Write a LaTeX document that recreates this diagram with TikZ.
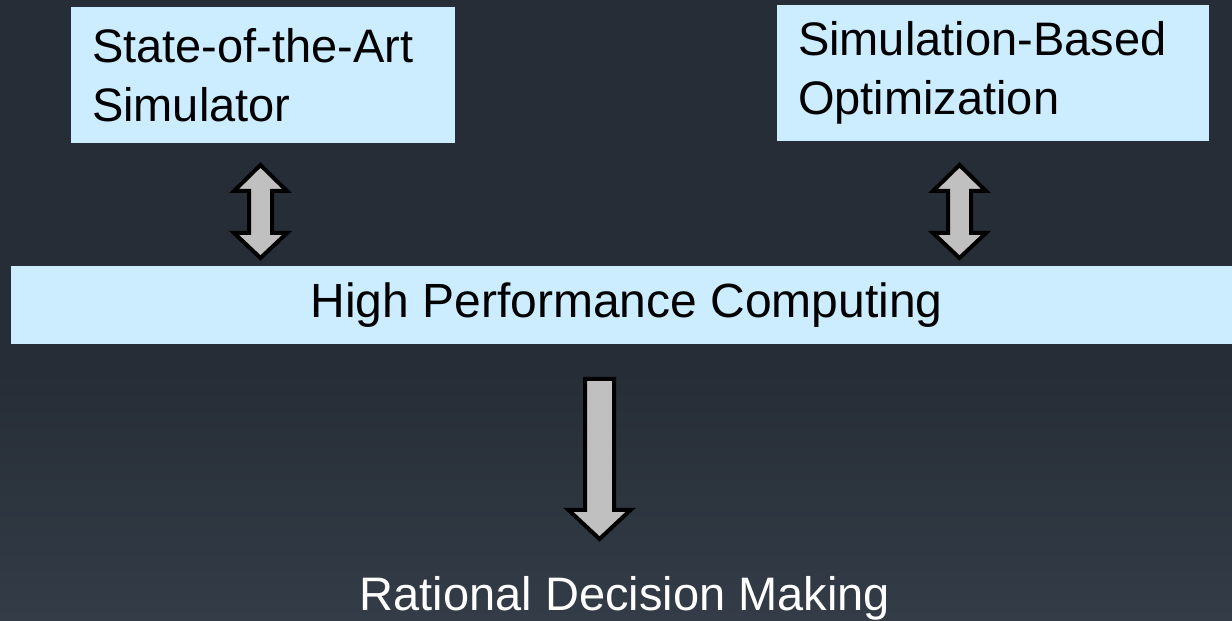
\documentclass[tikz,border=0pt]{standalone}
\usepackage{fontspec}
\setmainfont{Liberation Sans}
\definecolor{bgtop}{HTML}{262D36}
\definecolor{bgbot}{HTML}{333C47}
\definecolor{boxfill}{HTML}{CCECFF}
\definecolor{arrowfill}{HTML}{C0C0C0}
\tikzset{
  x=1pt,y=1pt,
  bluebox/.style={fill=boxfill, draw=none, inner sep=0pt, font=\fontsize{47}{59}\selectfont, text=black},
  blockarrow/.style={fill=arrowfill, draw=black, line width=4pt, line join=miter},
  dblarrow/.pic={
    \draw[blockarrow] (0,46.5) -- (26.5,20.5) -- (11.5,20.5) -- (11.5,-21.5) -- (26.5,-21.5)
      -- (0,-46.5) -- (-26.5,-21.5) -- (-11.5,-21.5) -- (-11.5,20.5) -- (-26.5,20.5) -- cycle;
  }
}
\begin{document}
\begin{tikzpicture}
\useasboundingbox (0,0) rectangle (1232,621);
\fill[bgtop] (0,0) rectangle (1232,621);
\shade[top color=bgtop, bottom color=bgbot] (0,0) rectangle (1232,250);

\node[bluebox, minimum width=384, minimum height=136, text width=342, align=left] (sim) at (263,546)
  {State-of-the-Art\\Simulator};
\node[bluebox, minimum width=432, minimum height=136, text width=390, align=left] (opt) at (993,548)
  {Simulation-Based\\Optimization};
\node[bluebox, minimum width=1231, minimum height=78, font=\fontsize{48}{59}\selectfont] (hpc) at (626.5,316)
  {High Performance Computing};
\node[anchor=base, font=\fontsize{47}{59}\selectfont, text=white, inner sep=0pt] (rdm) at (625,10)
  {Rational Decision Making};

\pic at (260.5,409.5) {dblarrow};
\pic at (959.5,409.5) {dblarrow};

\draw[blockarrow] (585,242) -- (585,111) -- (568.5,111) -- (599.5,82) -- (630.5,111)
  -- (614,111) -- (614,242) -- cycle;
\end{tikzpicture}
\end{document}
